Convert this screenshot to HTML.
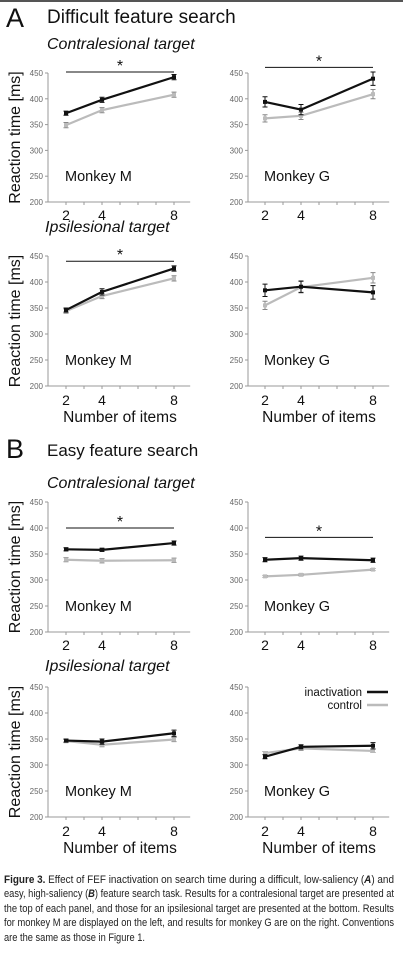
<!DOCTYPE html>
<html><head><meta charset="utf-8">
<style>
html,body{margin:0;padding:0;background:#fff;}
body{width:403px;height:955px;overflow:hidden;position:relative;font-family:"Liberation Sans",sans-serif;}
</style></head>
<body>
<svg id="fig" width="403" height="955" viewBox="0 0 403 955" xmlns="http://www.w3.org/2000/svg" font-family="Liberation Sans, sans-serif">
<rect x="0" y="0" width="403" height="2" fill="#555"/>
<text x="6" y="27" font-size="27" fill="#111">A</text>
<text x="47" y="23" font-size="19" fill="#111">Difficult feature search</text>
<text x="47" y="49" font-size="16" font-style="italic" fill="#111">Contralesional target</text>
<text x="45" y="232" font-size="16" font-style="italic" fill="#111">Ipsilesional target</text>
<text x="6" y="458" font-size="27" fill="#111">B</text>
<text x="47" y="456" font-size="17" fill="#111">Easy feature search</text>
<text x="47" y="488" font-size="16" font-style="italic" fill="#111">Contralesional target</text>
<text x="45" y="671" font-size="16" font-style="italic" fill="#111">Ipsilesional target</text>
<g id="plots"></g>
<g>
<text x="362" y="696" font-size="11.5" text-anchor="end" fill="#111">inactivation</text>
<line x1="367" y1="692" x2="388" y2="692" stroke="#111" stroke-width="2.5"/>
<text x="362" y="709" font-size="11.5" text-anchor="end" fill="#111">control</text>
<line x1="367" y1="705" x2="388" y2="705" stroke="#bbb" stroke-width="2.5"/>
</g>
<g font-size="11" fill="#222">
<text x="4" y="883" textLength="390" lengthAdjust="spacingAndGlyphs"><tspan font-weight="bold">Figure 3.</tspan>    Effect of FEF inactivation on search time during a difficult, low-saliency (<tspan font-style="italic" font-weight="bold">A</tspan>) and</text>
<text x="4" y="897" textLength="390" lengthAdjust="spacingAndGlyphs">easy, high-saliency (<tspan font-style="italic" font-weight="bold">B</tspan>) feature search task. Results for a contralesional target are presented at</text>
<text x="4" y="912" textLength="390" lengthAdjust="spacingAndGlyphs">the top of each panel, and those for an ipsilesional target are presented at the bottom. Results</text>
<text x="4" y="926" textLength="390" lengthAdjust="spacingAndGlyphs">for monkey M are displayed on the left, and results for monkey G are on the right. Conventions</text>
<text x="4" y="941" textLength="141" lengthAdjust="spacingAndGlyphs">are the same as those in Figure 1.</text>
</g>
</svg>
<script>
const xCats = [2, 4, 8];
const yTicks = [200, 250, 300, 350, 400, 450];
const monkeyNames = ["Monkey M","Monkey G","Monkey M","Monkey G","Monkey M","Monkey G","Monkey M","Monkey G"];
const inactA_cM = [372, 398, 442];
const ctrlA_cM = [349, 378, 408];
const inactA_cG = [394, 379, 439];
const ctrlA_cG = [362, 367, 409];
const inactA_iM = [346, 381, 426];
const ctrlA_iM = [344, 373, 407];
const inactA_iG = [384, 391, 380];
const ctrlA_iG = [355, 390, 408];
const inactB_cM = [359, 358, 371];
const ctrlB_cM = [339, 337, 338];
const inactB_cG = [339, 342, 338];
const ctrlB_cG = [307, 310, 320];
const inactB_iM = [347, 345, 361];
const ctrlB_iM = [346, 339, 349];
const inactB_iG = [316, 335, 337];
const ctrlB_iG = [323, 332, 327];
const errInact = [[4,5,5],[10,10,13],[4,6,5],[12,11,13],[3,3,4],[4,4,4],[3,5,6],[4,4,6]];
const errCtrl = [[5,5,5],[7,7,9],[4,5,5],[8,11,10],[4,4,4],[2,2,2],[3,4,4],[3,4,3]];
const sigValues = [452, 461, 440, null, 400, null, null, null];
const sigValuesG = [null, null, null, null, null, 382, null, null];

const inactAll=[inactA_cM,inactA_cG,inactA_iM,inactA_iG,inactB_cM,inactB_cG,inactB_iM,inactB_iG];
const ctrlAll=[ctrlA_cM,ctrlA_cG,ctrlA_iM,ctrlA_iG,ctrlB_cM,ctrlB_cG,ctrlB_iM,ctrlB_iG];
const layout=[[48,66,73,202,220,false],[248,265,73,202,220,false],[48,66,256,386,405,true],[248,265,256,386,405,true],
[48,66,502,632,650,false],[248,265,502,632,650,false],[48,66,687,817,836,true],[248,265,687,817,836,true]];
const NS="http://www.w3.org/2000/svg";
const root=document.getElementById('plots');
function mk(tag,attrs,parent){const e=document.createElementNS(NS,tag);for(const k in attrs)e.setAttribute(k,attrs[k]);parent.appendChild(e);return e;}
layout.forEach((L,i)=>{
  const [ax,x2,y450,y200,xl,showT]=L;
  const xs=v=>x2+(v-2)*18;
  const ys=v=>y200-(v-200)*(y200-y450)/250;
  const g=mk('g',{},root);
  
  
  const ya=mk('line',{x1:ax,y1:y450,x2:ax,y2:y200,stroke:'#999','stroke-width':1},g);
  
  
  const xa=mk('line',{x1:ax,y1:y200,x2:xs(8.9),y2:y200,stroke:'#999','stroke-width':1},g);
  
  
  yTicks.forEach(t=>{
    mk('line',{x1:ax-3,y1:ys(t),x2:ax,y2:ys(t),stroke:'#999'},g);
    const tt=mk('text',{x:ax-5,y:ys(t)+3,'font-size':8,'text-anchor':'end',fill:'#666'},g);
    tt.textContent=t;
    
    
  });
  for(let u=2;u<=8;u++) mk('line',{x1:xs(u),y1:y200,x2:xs(u),y2:y200+3,stroke:'#999'},g);
  xCats.forEach(c=>{
    const tt=mk('text',{x:xs(c),y:xl,'font-size':14,'text-anchor':'middle',fill:'#111'},g);
    tt.textContent=c;
    
    
  });
  if(showT){
    const tt=mk('text',{x:xs(5),y:xl+17,'font-size':15.5,'text-anchor':'middle',fill:'#111'},g);
    tt.textContent='Number of items';
    
    
  }
  if(i%2===0){
    const cy=(y450+y200)/2;
    const tt=mk('text',{x:0,y:0,'font-size':16,'text-anchor':'middle',fill:'#111',transform:`translate(20,${cy}) rotate(-90)`},g);
    tt.textContent='Reaction time [ms]';
    
    
  }
  const ml=mk('text',{x:x2-1,y:ys(250)+5,'font-size':14.5,fill:'#111'},g);
  ml.textContent=monkeyNames[i];
  
  
  const sv=sigValues[i]!=null?sigValues[i]:sigValuesG[i];
  if(sv!=null){
    const sl=mk('line',{x1:xs(2),y1:ys(sv),x2:xs(8),y2:ys(sv),stroke:'#111','stroke-width':1},g);
    
    
    const st=mk('text',{x:xs(5),y:ys(sv)-1,'font-size':16,'text-anchor':'middle',fill:'#111'},g);
    st.textContent='*';
    
    
  }
  [[ctrlAll[i],errCtrl[i],'#bbb','control'],[inactAll[i],errInact[i],'#111','inactivation']].forEach(([vals,errs,col,nm])=>{
    const pts=vals.map((v,k)=>xs(xCats[k])+','+ys(v)).join(' ');
    const pl=mk('polyline',{points:pts,fill:'none',stroke:col,'stroke-width':2.2},g);
    
    
    vals.forEach((v,k)=>{
      const x=xs(xCats[k]),y=ys(v),e=errs[k]*(y200-y450)/250;
      const eb=mk('path',{d:`M${x},${y-e}V${y+e}M${x-2.5},${y-e}H${x+2.5}M${x-2.5},${y+e}H${x+2.5}`,stroke:col==='#bbb'?'#888':'#111','stroke-width':1,fill:'none'},g);
      
      
      const m=mk('rect',{x:x-2,y:y-2,width:4,height:4,fill:col},g);
      
      
    });
  });
});
</script>
</body></html>
